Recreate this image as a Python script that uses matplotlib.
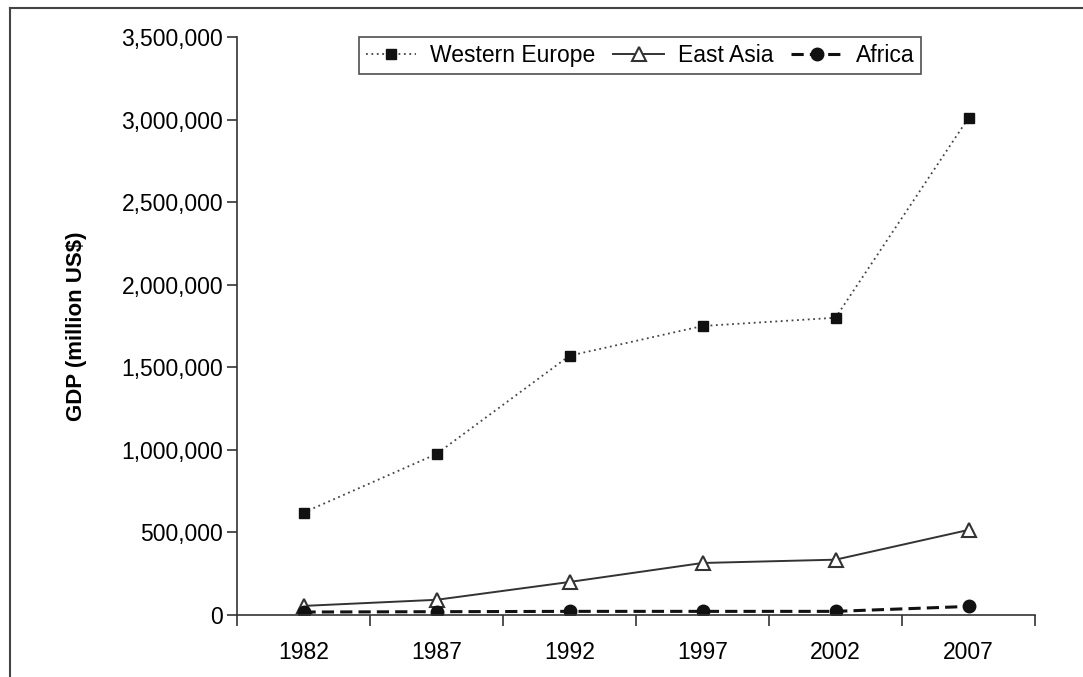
import matplotlib
matplotlib.use("Agg")
import matplotlib.pyplot as plt
from matplotlib.lines import Line2D
from matplotlib.ticker import FuncFormatter, MultipleLocator

years = ["1982", "1987", "1992", "1997", "2002", "2007"]
western_europe = [620000, 975000, 1570000, 1750000, 1800000, 3010000]
east_asia = [55000, 92000, 200000, 315000, 335000, 515000]
africa = [18000, 20000, 22000, 22000, 22000, 52000]

plt.rcParams['font.family'] = ['Liberation Sans', 'DejaVu Sans']

fig = plt.figure(figsize=(10.83, 6.77), dpi=100)
ax = fig.add_axes([237/1083, 1-615/677, (1035-237)/1083, (615-37)/677])

x = list(range(len(years)))
ax.plot(x, western_europe, linestyle=(0, (1, 2)), color='#444444', lw=1.3,
        marker='s', markersize=7, markerfacecolor='#111111', markeredgecolor='#111111',
        label='Western Europe')
ax.plot(x, east_asia, linestyle='-', color='#333333', lw=1.4,
        marker='^', markersize=10, markerfacecolor='white', markeredgecolor='#333333',
        markeredgewidth=1.5, label='East Asia')
ax.plot(x, africa, linestyle=(0, (4, 2)), color='#111111', lw=2.2,
        marker='o', markersize=9, markerfacecolor='#111111', markeredgecolor='#111111',
        label='Africa')

ax.set_xlim(-0.5, len(years)-0.5)
ax.set_ylim(0, 3500000)
ax.yaxis.set_major_locator(MultipleLocator(500000))
ax.yaxis.set_major_formatter(FuncFormatter(lambda v, p: f"{int(v):,}"))

ax.set_xticks([i - 0.5 for i in range(len(years)+1)])
ax.set_xticklabels([])
ax.set_xticks(x, minor=True)
ax.set_xticklabels(years, minor=True)
ax.tick_params(axis='x', which='minor', length=0, pad=19, labelsize=16.5)
ax.tick_params(axis='x', which='major', length=8, width=1.2, color='#333333')
ax.tick_params(axis='y', length=7, width=1.2, color='#333333', labelsize=16.5, pad=3)

for s in ['top', 'right']:
    ax.spines[s].set_visible(False)
for s in ['left', 'bottom']:
    ax.spines[s].set_color('#333333')
    ax.spines[s].set_linewidth(1.2)

ax.set_ylabel('GDP (million US$)', fontsize=16, fontweight='bold', labelpad=25)

leg = ax.legend(loc='upper center', bbox_to_anchor=(0.505, 1.0), ncol=3, frameon=True,
                fancybox=False, edgecolor='#222222', fontsize=16.5, handlelength=2.2,
                handletextpad=0.6, columnspacing=0.8, borderpad=0.3, borderaxespad=0)
leg.get_frame().set_linewidth(1.2)

fig.add_artist(Line2D([10/1083, 10/1083], [0, 1-8/677], color='#444444', lw=1.5, transform=fig.transFigure))
fig.add_artist(Line2D([10/1083, 1], [1-8/677, 1-8/677], color='#444444', lw=1.5, transform=fig.transFigure))

fig.savefig('out.png', dpi=100)
